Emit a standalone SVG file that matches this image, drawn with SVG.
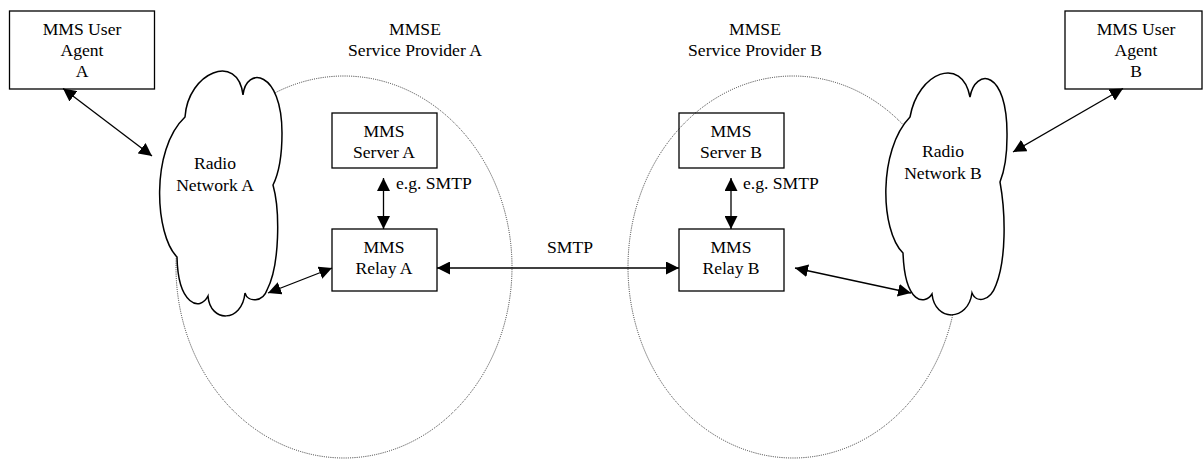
<svg xmlns="http://www.w3.org/2000/svg" width="1203" height="459" viewBox="0 0 1203 459">
<style>
.t{font-family:"Liberation Serif","Times New Roman",serif;font-size:17.6px;fill:#000;text-anchor:middle}
.ts{font-family:"Liberation Serif","Times New Roman",serif;font-size:17.6px;fill:#000}
.box{fill:none;stroke:#000;stroke-width:1.3}
.cloud{fill:#fff;stroke:#000;stroke-width:1.5}
.dot{fill:none;stroke:#333;stroke-width:1;stroke-dasharray:1 1.2}
.c{fill:none;stroke:#000;stroke-width:1.3}
</style>
<defs>
<marker id="ah" markerUnits="userSpaceOnUse" markerWidth="13" markerHeight="13" viewBox="0 0 13 13" refX="13" refY="6.5" orient="auto-start-reverse">
<path d="M0,0 L13,6.5 L0,13 z" fill="#000"/>
</marker>
</defs>
<rect width="1203" height="459" fill="#fff"/>

<g id="mmse-a">
<ellipse class="dot" cx="344" cy="267" rx="168" ry="191"/>
<text class="t" x="415" y="34.5">MMSE</text>
<text class="t" x="415" y="55.5">Service Provider A</text>
</g>
<g id="mmse-b">
<ellipse class="dot" cx="793" cy="267" rx="165" ry="191"/>
<text class="t" x="755" y="34.5">MMSE</text>
<text class="t" x="755" y="55.5">Service Provider B</text>
</g>

<g id="ua-a">
<rect class="box" x="9.5" y="11" width="145" height="78"/>
<text class="t" x="82" y="34.5">MMS User</text>
<text class="t" x="82" y="55.5">Agent</text>
<text class="t" x="82" y="76.5">A</text>
</g>
<g id="ua-b">
<rect class="box" x="1065" y="11" width="137" height="78"/>
<text class="t" x="1136" y="34.5">MMS User</text>
<text class="t" x="1136" y="55.5">Agent</text>
<text class="t" x="1136" y="76.5">B</text>
</g>

<g id="radio-a">
<path class="cloud" d="M185,117 C188,72 238,52 243,95 C246,66 282,70 282,133 C282,160 278,175 273,185 C280,210 280,265 267,290 C263,302 248,303 245,293 C242,323 210,323 208,296 C200,312 178,305 177,257 C155,235 150,150 185,117 Z"/>
<text class="t" x="215" y="169">Radio</text>
<text class="t" x="215" y="190.5">Network A</text>
</g>
<g id="radio-b">
<path class="cloud" d="M910,117 C918,72 962,55 970,97 C975,68 1008,68 1007,137 C1007,160 1004,172 1000,182 C1006,215 1006,260 996,285 C990,302 976,303 972,293 C968,322 935,322 932,294 C925,305 905,305 903,253 C880,230 878,150 910,117 Z"/>
<text class="t" x="943" y="157">Radio</text>
<text class="t" x="943" y="178.5">Network B</text>
</g>

<g id="server-a">
<rect class="box" x="332" y="113" width="105" height="55"/>
<text class="t" x="384" y="137.3">MMS</text>
<text class="t" x="384" y="157.5">Server A</text>
</g>
<g id="relay-a">
<rect class="box" x="332" y="229" width="105" height="62"/>
<text class="t" x="384" y="252.7">MMS</text>
<text class="t" x="384" y="273.5">Relay A</text>
</g>
<g id="server-b">
<rect class="box" x="679" y="113" width="105" height="55"/>
<text class="t" x="731" y="137.3">MMS</text>
<text class="t" x="731" y="157.5">Server B</text>
</g>
<g id="relay-b">
<rect class="box" x="679" y="229" width="105" height="62"/>
<text class="t" x="731" y="252.7">MMS</text>
<text class="t" x="731" y="273.5">Relay B</text>
</g>

<g id="connectors">
<line class="c" x1="63" y1="88.5" x2="152" y2="156" marker-start="url(#ah)" marker-end="url(#ah)"/>
<line class="c" x1="1123" y1="88.5" x2="1013" y2="152" marker-start="url(#ah)" marker-end="url(#ah)"/>
<line class="c" x1="268" y1="293" x2="332" y2="268" marker-start="url(#ah)" marker-end="url(#ah)"/>
<line class="c" x1="795" y1="268" x2="911" y2="293" marker-start="url(#ah)" marker-end="url(#ah)"/>
<line class="c" x1="437" y1="268" x2="679" y2="268" marker-start="url(#ah)" marker-end="url(#ah)"/>
<line class="c" x1="383.5" y1="178" x2="383.5" y2="229" marker-start="url(#ah)" marker-end="url(#ah)"/>
<line class="c" x1="731" y1="178" x2="731" y2="229" marker-start="url(#ah)" marker-end="url(#ah)"/>
<text class="t" x="570" y="253">SMTP</text>
<text class="ts" x="396" y="189.3">e.g. SMTP</text>
<text class="ts" x="743" y="189.3">e.g. SMTP</text>
</g>
</svg>
